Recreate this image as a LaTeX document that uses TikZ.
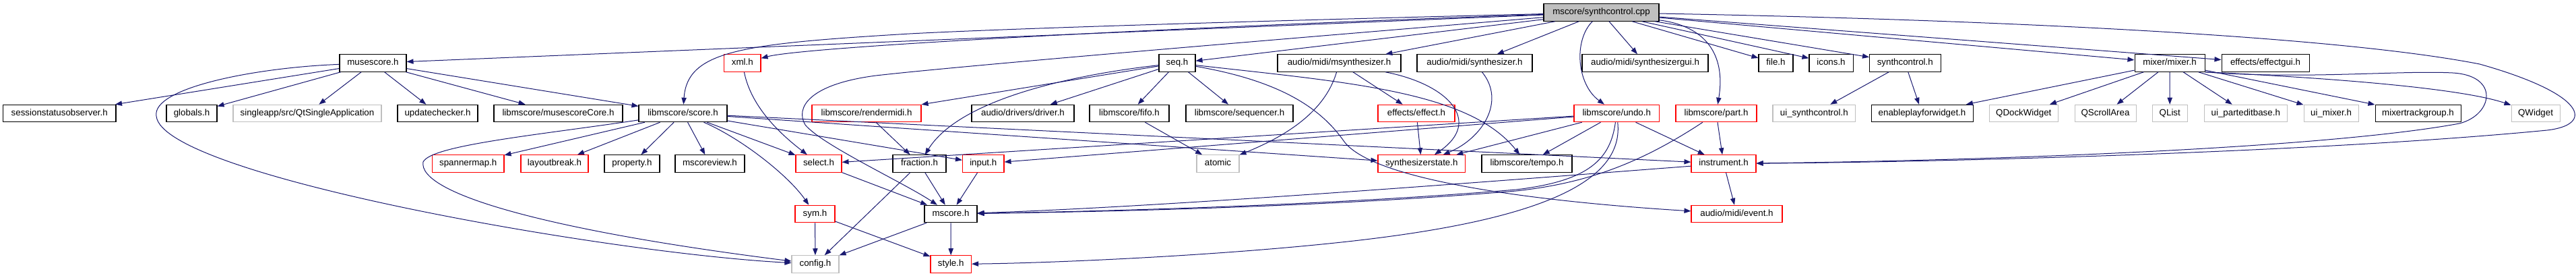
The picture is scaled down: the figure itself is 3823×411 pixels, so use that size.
\documentclass[tikz,border=0pt]{standalone}
\usepackage{fontspec}
\setmainfont{Liberation Sans}
\usetikzlibrary{arrows.meta}
\definecolor{edgecol}{RGB}{25,25,112}
\definecolor{grayb}{RGB}{191,191,191}
\definecolor{redb}{RGB}{255,0,0}
\newcommand\mknode[6]{\node[#5, minimum width={(#3-#2)*0.75pt}] (#1) at ({(#2+#3)/2},#4) {#6};}
\begin{document}
\begin{tikzpicture}[x=0.75pt,y=-0.75pt,
 hbox/.style={draw=black, line width=0.8pt, fill=white, minimum height=19.1pt, inner sep=0pt, text height=7.3pt, text depth=2.1pt, font=\fontsize{10}{12}\selectfont},
 rbox/.style={hbox, draw=redb},
 gbox/.style={hbox, draw=grayb},
 topbox/.style={hbox, fill=grayb},
 dep/.style={draw=edgecol, line width=0.75pt, -{Triangle[length=7.5pt,width=5.5pt]}}]
\useasboundingbox (0,0) rectangle (3823,411);
% row 0
\mknode{S}{2291}{2462}{18.5}{topbox}{mscore/synthcontrol.cpp}
% row 1
\mknode{musescore}{504}{603}{93.5}{hbox}{musescore.h}
\mknode{xml}{1074.5}{1129}{93.5}{rbox}{xml.h}
\mknode{seq}{1720}{1774}{93.5}{hbox}{seq.h}
\mknode{msynth}{1896}{2079}{93.5}{hbox}{audio/midi/msynthesizer.h}
\mknode{synth}{2103}{2274}{93.5}{hbox}{audio/midi/synthesizer.h}
\mknode{sgui}{2348}{2535}{93.5}{hbox}{audio/midi/synthesizergui.h}
\mknode{file}{2610}{2661}{93.5}{hbox}{file.h}
\mknode{icons}{2685}{2750}{93.5}{hbox}{icons.h}
\mknode{sctrl}{2774.5}{2880}{93.5}{hbox}{synthcontrol.h}
\mknode{mixer}{3168}{3272}{93.5}{hbox}{mixer/mixer.h}
\mknode{effgui}{3297}{3427}{93.5}{hbox}{effects/effectgui.h}
% row 2
\mknode{sso}{4.5}{172}{168}{hbox}{sessionstatusobserver.h}
\mknode{globals}{247}{322}{168}{hbox}{globals.h}
\mknode{qtsa}{346}{566}{168}{gbox}{singleapp/src/QtSingleApplication}
\mknode{upd}{590}{709}{168}{hbox}{updatechecker.h}
\mknode{core}{733}{924}{168}{hbox}{libmscore/musescoreCore.h}
\mknode{score}{948}{1079}{168}{hbox}{libmscore/score.h}
\mknode{rmidi}{1205}{1367}{168}{rbox}{libmscore/rendermidi.h}
\mknode{driver}{1442}{1594}{168}{hbox}{audio/drivers/driver.h}
\mknode{fifo}{1617}{1735}{168}{hbox}{libmscore/fifo.h}
\mknode{seqr}{1760}{1919}{168}{hbox}{libmscore/sequencer.h}
\mknode{effect}{2045}{2159}{168}{rbox}{effects/effect.h}
\mknode{undo}{2336}{2462.5}{168}{rbox}{libmscore/undo.h}
\mknode{part}{2487}{2607}{168}{rbox}{libmscore/part.h}
\mknode{uisc}{2631}{2753.5}{168}{gbox}{ui\_synthcontrol.h}
\mknode{epw}{2777}{2928}{168}{hbox}{enableplayforwidget.h}
\mknode{qdock}{2952}{3054.5}{168}{gbox}{QDockWidget}
\mknode{qscroll}{3079}{3170}{168}{gbox}{QScrollArea}
\mknode{qlist}{3194.5}{3246}{168}{gbox}{QList}
\mknode{uipe}{3271.5}{3394}{168}{gbox}{ui\_parteditbase.h}
\mknode{uimixer}{3419}{3500}{168}{gbox}{ui\_mixer.h}
\mknode{mtg}{3525}{3652}{168}{hbox}{mixertrackgroup.h}
\mknode{qwidget}{3727}{3799}{168}{gbox}{QWidget}
% row 3
\mknode{spanner}{641.5}{748}{242.5}{rbox}{spannermap.h}
\mknode{layout}{773}{873}{242.5}{rbox}{layoutbreak.h}
\mknode{prop}{897}{979}{242.5}{hbox}{property.h}
\mknode{mview}{1002}{1105}{242.5}{hbox}{mscoreview.h}
\mknode{select}{1181}{1249}{242.5}{rbox}{select.h}
\mknode{fraction}{1325}{1404}{242.5}{hbox}{fraction.h}
\mknode{input}{1428.5}{1490}{242.5}{rbox}{input.h}
\mknode{atomic}{1776}{1839}{242.5}{gbox}{atomic}
\mknode{sstate}{2045}{2174.5}{242.5}{rbox}{synthesizerstate.h}
\mknode{tempo}{2199}{2333}{242.5}{hbox}{libmscore/tempo.h}
\mknode{instr}{2510}{2606}{242.5}{rbox}{instrument.h}
% row 4
\mknode{sym}{1180}{1239}{317}{rbox}{sym.h}
\mknode{mscore}{1372}{1450}{317}{hbox}{mscore.h}
\mknode{event}{2510}{2645}{317}{rbox}{audio/midi/event.h}
% row 5
\mknode{config}{1175}{1245}{391.5}{gbox}{config.h}
\mknode{style}{1381}{1441.5}{391.5}{rbox}{style.h}
% ---- edges from synthcontrol.cpp
\draw[dep] (S) -- (musescore);
\draw[dep] (S) .. controls (1900,30) and (1500,42) .. (1350,50) .. controls (1100,65) and (1020,75) .. (score);
\draw[dep] (S) .. controls (1800,38) and (1200,68) .. (xml);
\draw[dep] (S) .. controls (2000,50) and (1450,95) .. (1300,112) .. controls (1200,125) and (1180,160) .. (1195,185) .. controls (1220,215) and (1340,270) .. (mscore);
\draw[dep] (S) -- (seq);
\draw[dep] (S) -- (msynth);
\draw[dep] (S) -- (synth);
\draw[dep] (S) -- (sgui);
\draw[dep] (S) .. controls (2335,60) and (2340,125) .. (undo);
\draw[dep] (S) .. controls (2540,40) and (2560,90) .. (part);
\draw[dep] (S) -- (file);
\draw[dep] (S) -- (icons);
\draw[dep] (S) -- (sctrl);
\draw[dep] (S) -- (mixer);
\draw[dep] (S) -- (effgui);
\draw[dep] (S) .. controls (2900,28) and (3450,50) .. (3680,95) .. controls (3840,140) and (3850,185) .. (3780,193) .. controls (3450,225) and (2900,240) .. (instr);
% ---- musescore.h
\draw[dep] (musescore) -- (sso);
\draw[dep] (musescore) -- (globals);
\draw[dep] (musescore) -- (qtsa);
\draw[dep] (musescore) -- (upd);
\draw[dep] (musescore) -- (core);
\draw[dep] (musescore) -- (score);
\draw[dep] (musescore) .. controls (380,100) and (225,130) .. (232,172) .. controls (240,260) and (900,375) .. (config);
% ---- score.h
\draw[dep] (score) -- (spanner);
\draw[dep] (score) -- (layout);
\draw[dep] (score) -- (prop);
\draw[dep] (score) -- (mview);
\draw[dep] (score) -- (select);
\draw[dep] (score) .. controls (1100,205) and (1170,260) .. (sym);
\draw[dep] (score) .. controls (800,200) and (640,215) .. (628,240) .. controls (620,285) and (800,340) .. (config);
\draw[dep] (score) -- (input);
\draw[dep] (score) -- (sstate);
\draw[dep] (score) -- (instr);
% ---- xml, rendermidi
\draw[dep] (xml) .. controls (1115,160) and (1160,200) .. (select);
\draw[dep] (rmidi) -- (fraction);
% ---- seq.h
\draw[dep] (seq) -- (rmidi);
\draw[dep] (seq) -- (driver);
\draw[dep] (seq) -- (fifo);
\draw[dep] (seq) -- (seqr);
\draw[dep] (seq) .. controls (1600,110) and (1425,145) .. (fraction);
\draw[dep] (seq) .. controls (2000,122) and (2180,135) .. (tempo);
\draw[dep] (seq) .. controls (1900,120) and (1960,160) .. (1995,210) .. controls (2040,270) and (2300,300) .. (event);
% ---- synthesizers
\draw[dep] (msynth) .. controls (1965,170) and (1900,205) .. (atomic);
\draw[dep] (msynth) -- (effect);
\draw[dep] (msynth) .. controls (2150,125) and (2200,180) .. (sstate);
\draw[dep] (synth) .. controls (2235,150) and (2200,205) .. (sstate);
\draw[dep] (effect) -- (sstate);
% ---- undo.h
\draw[dep] (undo) -- (sstate);
\draw[dep] (undo) -- (tempo);
\draw[dep] (undo) -- (instr);
\draw[dep] (undo) -- (select);
\draw[dep] (undo) -- (input);
\draw[dep] (undo) .. controls (2390,235) and (2360,268) .. (2250,281) .. controls (2000,302) and (1700,312) .. (mscore);
\draw[dep] (undo) .. controls (2410,265) and (2300,325) .. (2000,358) .. controls (1800,380) and (1550,390) .. (style);
% ---- part.h, instrument.h
\draw[dep] (part) -- (instr);
\draw[dep] (part) .. controls (2430,245) and (2350,272) .. (2250,283) .. controls (2000,304) and (1700,313) .. (mscore);
\draw[dep] (instr) -- (event);
\draw[dep] (instr) .. controls (2300,262) and (1750,306) .. (mscore);
% ---- lower part
\draw[dep] (fraction) -- (mscore);
\draw[dep] (fraction) -- (config);
\draw[dep] (select) -- (mscore);
\draw[dep] (input) -- (mscore);
\draw[dep] (sym) -- (config);
\draw[dep] (sym) -- (style);
\draw[dep] (mscore) -- (style);
\draw[dep] (mscore) -- (config);
\draw[dep] (fifo) -- (atomic);
% ---- synthcontrol.h, mixer.h
\draw[dep] (sctrl) -- (uisc);
\draw[dep] (sctrl) -- (epw);
\draw[dep] (mixer) -- (epw);
\draw[dep] (mixer) -- (qdock);
\draw[dep] (mixer) -- (qscroll);
\draw[dep] (mixer) -- (qlist);
\draw[dep] (mixer) -- (uipe);
\draw[dep] (mixer) -- (uimixer);
\draw[dep] (mixer) -- (mtg);
\draw[dep] (mixer.south east) .. controls (3450,115) and (3650,130) .. (qwidget);
\draw[dep] (mixer.south east) .. controls (3420,118) and (3560,104) .. (3640,108) .. controls (3710,112) and (3700,170) .. (3650,183) .. controls (3450,220) and (2950,238) .. (instr);
\end{tikzpicture}
\end{document}
